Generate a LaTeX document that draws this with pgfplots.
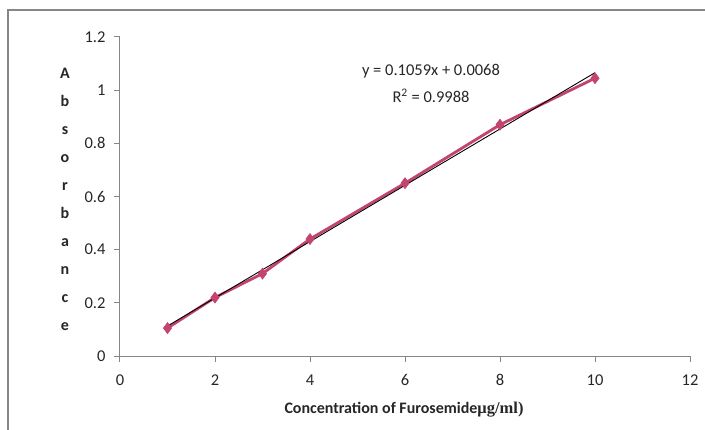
\documentclass[border=0pt]{standalone}
\usepackage{fontspec}
\setmainfont{Carlito}
\newfontfamily\tnr{Liberation Serif}
\usepackage{pgfplots}
\pgfplotsset{compat=1.18}
\definecolor{serPink}{RGB}{196,68,112}
\definecolor{axGray}{RGB}{134,134,134}
\begin{document}
\begin{tikzpicture}[x=1pt,y=1pt]
\useasboundingbox (0,0) rectangle (705,429);
% outer chart frame (cropped at right and bottom)
\draw[axGray, line width=1.2pt] (8,-5) -- (8,419) -- (710,419);
\begin{axis}[
    at={(120pt,73pt)}, anchor=south west,
    scale only axis, width=570pt, height=319pt,
    xmin=0, xmax=12, ymin=0, ymax=1.2,
    xtick={0,2,...,12}, ytick={0,0.2,...,1.2},
    axis x line*=bottom, axis y line*=left,
    axis line style={axGray, line width=1pt},
    tick style={axGray, line width=1pt},
    tick align=outside, major tick length=6pt,
    xticklabel style={font=\fontsize{16.5}{18}\selectfont, text=black!85, yshift=-9pt},
    yticklabel style={font=\fontsize{16.5}{18}\selectfont, text=black!85, xshift=-5pt},
    /pgf/number format/assume math mode=true,
    yticklabel={\pgfmathprintnumber[fixed,precision=1]{\tick}},
    clip=false,
]
\addplot[serPink, line width=2.8pt, mark=diamond*, mark size=5.5pt,
    mark options={fill=serPink, draw=serPink, line width=0.6pt}]
    coordinates {(1,0.105) (2,0.22) (3,0.31) (4,0.44) (6,0.65) (8,0.87) (10,1.045)};
\addplot[black, line width=0.9pt] coordinates {(1,0.1127) (10,1.0658)};
\end{axis}
% trendline equation
\node[font=\fontsize{16.5}{18}\selectfont, text=black!85] at (431,358) {y = 0.1059x + 0.0068};
\node[font=\fontsize{16.5}{18}\selectfont, text=black!85] at (431,333) {R\textsuperscript{2} = 0.9988};
% stacked y label
\node[align=center, font=\bfseries\fontsize{16}{28}\selectfont, text=black!85] at (65,230)
    {A\\b\\s\\o\\r\\b\\a\\n\\c\\e};
% x label
\node[font=\bfseries\fontsize{16}{18}\selectfont, text=black!85] at (404,19)
    {Concentration of Furosemide{\tnr\bfseries\fontsize{16.5}{18}\selectfont μg/ml)}};
\end{tikzpicture}
\end{document}
